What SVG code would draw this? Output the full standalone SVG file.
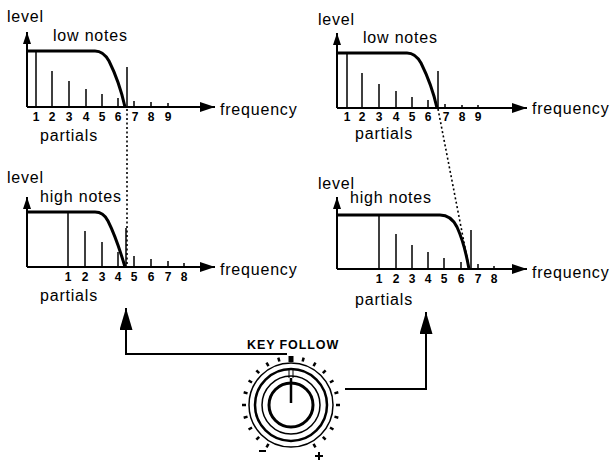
<svg xmlns="http://www.w3.org/2000/svg" width="615" height="461" viewBox="0 0 615 461">
<style>
.ax{stroke:#000;stroke-width:2;fill:none}
.p{stroke:#000;stroke-width:1.5}
.cv{stroke:#000;stroke-width:3;fill:none;stroke-linejoin:round}
.dt{stroke:#000;stroke-width:1.6;stroke-dasharray:2 2.5;fill:none}
.t{font-family:"Liberation Sans",Arial,Helvetica,sans-serif;font-size:16px;letter-spacing:0.8px;fill:#000}
.d{font-family:"Liberation Sans",Arial,Helvetica,sans-serif;font-size:12px;font-weight:bold;text-anchor:middle;fill:#000}
.kf{font-family:"Liberation Sans",Arial,Helvetica,sans-serif;font-size:12.5px;font-weight:bold;letter-spacing:0.9px;fill:#000}
.ring{fill:none;stroke:#000}
.tk{stroke:#000;stroke-width:2.5}
</style>
<defs>
<marker id="ahx" viewBox="0 0 15 10" refX="15" refY="5" markerWidth="15" markerHeight="10" orient="auto" markerUnits="userSpaceOnUse"><path d="M0,0 L15,5 L0,10 z" fill="#000"/></marker>
<marker id="ahy" viewBox="0 0 12 8" refX="12" refY="4" markerWidth="12" markerHeight="8" orient="auto" markerUnits="userSpaceOnUse"><path d="M0,0 L12,4 L0,8 z" fill="#000"/></marker>
<marker id="ahb" viewBox="0 0 22 13" refX="22" refY="6.5" markerWidth="22" markerHeight="13" orient="auto" markerUnits="userSpaceOnUse"><path d="M0,0 L22,6.5 L0,13 z" fill="#000"/></marker>
</defs>

<g id="chart-low-left">
<path class="ax" d="M27,107 V32" marker-end="url(#ahy)"/>
<path class="ax" d="M27,107 H215" marker-end="url(#ahx)"/>
<path class="cv" d="M27,51 H95 C101,51 105,54 109,61 C114,71 121,89 125,107"/>
<path class="p" d="M36,51 V107 M52,71 V107 M69,81 V107 M86,89 V107 M102,94 V107 M118,98 V107 M127,67 V107 M134,101 V107 M151,102 V107 M168,103 V107"/>
<text class="t" x="7" y="22">level</text>
<text class="t" x="53" y="41">low notes</text>
<text class="t" x="220" y="115">frequency</text>
<text class="t" x="40" y="141">partials</text>
<text class="d" x="36" y="121">1</text><text class="d" x="52" y="121">2</text><text class="d" x="69" y="121">3</text><text class="d" x="86" y="121">4</text><text class="d" x="102" y="121">5</text><text class="d" x="118" y="121">6</text><text class="d" x="135" y="121">7</text><text class="d" x="151" y="121">8</text><text class="d" x="168" y="121">9</text>
</g>

<g id="chart-high-left">
<path class="ax" d="M27,267 V197" marker-end="url(#ahy)"/>
<path class="ax" d="M27,267 H215" marker-end="url(#ahx)"/>
<path class="cv" d="M27,212 H95 C101,212 105,215 108,221 C114,233 120,250 125,267"/>
<path class="p" d="M68,212 V267 M85,231 V267 M102,242 V267 M118,252 V267 M126,228 V267 M134,256 V267 M151,259 V267 M168,261 V267 M184,263 V267"/>
<text class="t" x="7" y="183">level</text>
<text class="t" x="40" y="202">high notes</text>
<text class="t" x="220" y="275">frequency</text>
<text class="t" x="40" y="301">partials</text>
<text class="d" x="68" y="281">1</text><text class="d" x="85" y="281">2</text><text class="d" x="102" y="281">3</text><text class="d" x="118" y="281">4</text><text class="d" x="134" y="281">5</text><text class="d" x="151" y="281">6</text><text class="d" x="168" y="281">7</text><text class="d" x="184" y="281">8</text>
</g>

<g id="chart-low-right">
<path class="ax" d="M337,108 V33" marker-end="url(#ahy)"/>
<path class="ax" d="M337,108 H527" marker-end="url(#ahx)"/>
<path class="cv" d="M337,53 H407 C413,53 417,56 421,63 C426,73 433,90 437,108"/>
<path class="p" d="M347,53 V108 M362,73 V108 M379,84 V108 M396,91 V108 M412,97 V108 M428,100 V108 M438,71 V108 M445,104 V108 M462,105 V108 M478,105 V108"/>
<text class="t" x="318" y="25">level</text>
<text class="t" x="363" y="43">low notes</text>
<text class="t" x="532" y="114">frequency</text>
<text class="t" x="355" y="139">partials</text>
<text class="d" x="347" y="121">1</text><text class="d" x="362" y="121">2</text><text class="d" x="379" y="121">3</text><text class="d" x="396" y="121">4</text><text class="d" x="412" y="121">5</text><text class="d" x="428" y="121">6</text><text class="d" x="446" y="121">7</text><text class="d" x="462" y="121">8</text><text class="d" x="478" y="121">9</text>
</g>

<g id="chart-high-right">
<path class="ax" d="M337,269 V197" marker-end="url(#ahy)"/>
<path class="ax" d="M337,269 H527" marker-end="url(#ahx)"/>
<path class="cv" d="M337,215 H440 C448,215 453,219 457,227 C462,238 466,252 469,269"/>
<path class="p" d="M379,215 V269 M396,234 V269 M412,245 V269 M428,252 V269 M444,258 V269 M461,262 V269 M471,230 V269 M478,264 V269 M494,266 V269"/>
<text class="t" x="318" y="189">level</text>
<text class="t" x="350" y="203">high notes</text>
<text class="t" x="532" y="278">frequency</text>
<text class="t" x="355" y="305">partials</text>
<text class="d" x="379" y="283">1</text><text class="d" x="396" y="283">2</text><text class="d" x="412" y="283">3</text><text class="d" x="428" y="283">4</text><text class="d" x="444" y="283">5</text><text class="d" x="461" y="283">6</text><text class="d" x="478" y="283">7</text><text class="d" x="494" y="283">8</text>
</g>

<g id="knob">
<text class="kf" x="247" y="349">KEY FOLLOW</text>
<circle class="ring" cx="291" cy="405" r="42" stroke-width="1.5"/>
<circle class="ring" cx="291" cy="405" r="36" stroke-width="2.5"/>
<circle class="ring" cx="291" cy="405" r="29" stroke-width="1.5"/>
<circle class="ring" cx="291" cy="405" r="22" stroke-width="3"/>
<path d="M291,403 V378" stroke="#000" stroke-width="2.5"/>
<path d="M289,370 V378 M293,370 V378" stroke="#000" stroke-width="1"/>
<g transform="translate(291,405)">
<rect x="-2.5" y="-49" width="5" height="6" fill="#000"/>
<path class="tk" d="M0,-49 V-45" transform="rotate(-150)"/>
<path class="tk" d="M0,-49 V-45" transform="rotate(-135)"/>
<path class="tk" d="M0,-49 V-45" transform="rotate(-120)"/>
<path class="tk" d="M0,-49 V-45" transform="rotate(-105)"/>
<path class="tk" d="M0,-49 V-45" transform="rotate(-90)"/>
<path class="tk" d="M0,-49 V-45" transform="rotate(-75)"/>
<path class="tk" d="M0,-49 V-45" transform="rotate(-60)"/>
<path class="tk" d="M0,-49 V-45" transform="rotate(-45)"/>
<path class="tk" d="M0,-49 V-45" transform="rotate(-30)"/>
<path class="tk" d="M0,-49 V-45" transform="rotate(-15)"/>
<path class="tk" d="M0,-49 V-45" transform="rotate(15)"/>
<path class="tk" d="M0,-49 V-45" transform="rotate(30)"/>
<path class="tk" d="M0,-49 V-45" transform="rotate(45)"/>
<path class="tk" d="M0,-49 V-45" transform="rotate(60)"/>
<path class="tk" d="M0,-49 V-45" transform="rotate(75)"/>
<path class="tk" d="M0,-49 V-45" transform="rotate(90)"/>
<path class="tk" d="M0,-49 V-45" transform="rotate(105)"/>
<path class="tk" d="M0,-49 V-45" transform="rotate(120)"/>
<path class="tk" d="M0,-49 V-45" transform="rotate(135)"/>
<path class="tk" d="M0,-49 V-45" transform="rotate(150)"/>
</g>
<path d="M259,451 H266" stroke="#000" stroke-width="2"/>
<path d="M315,456 H323 M319,452 V460" stroke="#000" stroke-width="2"/>
</g>

<g id="connectors">
<path class="dt" d="M127,109 V266"/>
<path class="dt" d="M438,109 L469,268"/>
<path class="ax" d="M287,354 H126 V308" marker-end="url(#ahb)"/>
<path class="ax" d="M345,389 H426 V312" marker-end="url(#ahb)"/>
</g>
</svg>
